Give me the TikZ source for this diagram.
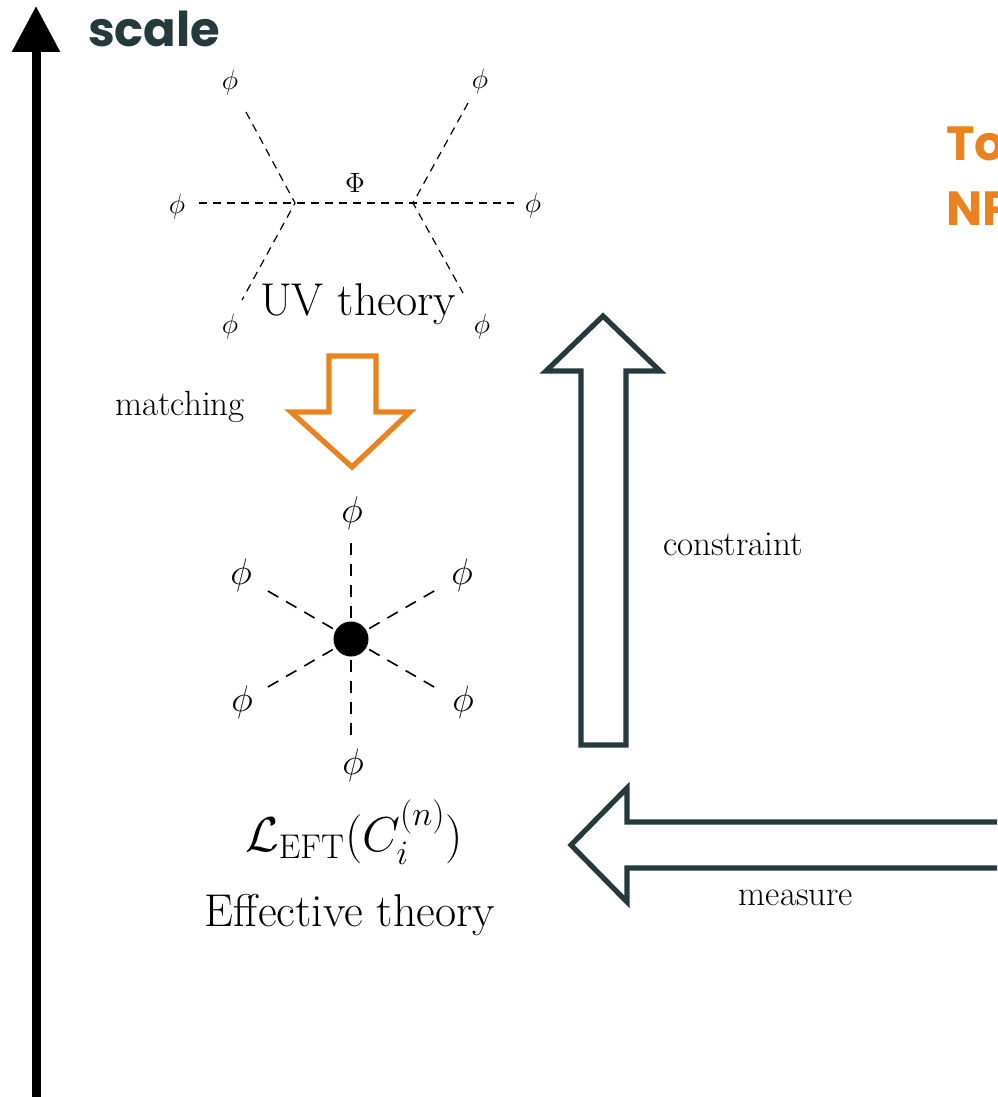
\RequirePackage{fix-cm}
\documentclass[tikz,border=0pt]{standalone}
\usepackage{amsmath,amssymb}
\usepackage{fontspec}
\newfontfamily\headfont{Poppins}
\usepackage{tikz}
\usetikzlibrary{arrows.meta}
\definecolor{slate}{RGB}{38,58,61}
\definecolor{nporange}{RGB}{234,130,30}

\begin{document}
\begin{tikzpicture}[x=0.5pt,y=-0.5pt,>={Triangle[width=23pt,length=23pt]},
  prop/.style={dash pattern=on 4pt off 3pt,line width=0.6pt},
  eftprop/.style={dash pattern=on 6pt off 4.5pt,line width=0.8pt},
  blockarrow/.style={line width=2.6pt,line join=miter},
  uvphi/.style={font=\fontsize{14}{17}\selectfont},
  eftphi/.style={font=\fontsize{18.5}{22}\selectfont},
  note/.style={font=\fontsize{17.5}{21}\selectfont,anchor=base},
  theorylabel/.style={font=\fontsize{23}{28}\selectfont,anchor=base},
  headtext/.style={font=\headfont\bfseries\fontsize{24}{29}\selectfont,anchor=base west}]
  \clip (0,0) rectangle (997,1097);
  % scale axis
  \draw[line width=4.5pt,->] (36,1110) -- (36,6);
  \node[headtext,text=slate] (scale) at (81,47) {scale};
  \node[headtext,text=nporange] (to) at (939,161) {To};
  \node[headtext,text=nporange] (np) at (939,225) {NP};

  % UV theory
  \coordinate (vl) at (295,203);
  \coordinate (vr) at (413,203);
  \coordinate (el) at (199,203);
  \coordinate (er) at (514,203);
  \coordinate (eul) at (246,112);
  \coordinate (ell) at (242,300);
  \coordinate (eur) at (468,103);
  \coordinate (elr) at (463,293);
  \draw[prop] (el) -- (vl) -- (vr) -- (er);
  \draw[prop] (eul) -- (vl) -- (ell);
  \draw[prop] (eur) -- (vr) -- (elr);
  \node[uvphi] (pul) at (230,83) {$\phi$};
  \node[uvphi] (pur) at (480,82) {$\phi$};
  \node[uvphi] (pl) at (177,206) {$\phi$};
  \node[uvphi] (pr) at (533,205) {$\phi$};
  \node[uvphi] (pll) at (230,326) {$\phi$};
  \node[uvphi] (plr) at (482,326) {$\phi$};
  \node[uvphi] (heavy) at (355,183) {$\Phi$};
  \node[theorylabel] (uv) at (358,315) {UV theory};

  % matching
  \draw[blockarrow,nporange] (329,356) -- (376,356) -- (376,412) -- (410,412)
    -- (352,467) -- (291,412) -- (329,412) -- cycle;
  \node[note] (matching) at (180,415) {matching};

  % effective vertex
  \coordinate (vc) at (351,639);
  \foreach \a in {30,90,...,330} {
    \path (vc) ++(\a:96) coordinate (leg\a);
    \draw[eftprop] (leg\a) -- (vc);
  }
  \node[circle,fill,inner sep=0pt,minimum size=17.5pt] (blob) at (vc) {};
  \node[eftphi] (qt) at (352,513) {$\phi$};
  \node[eftphi] (qul) at (241,575) {$\phi$};
  \node[eftphi] (qur) at (462,575) {$\phi$};
  \node[eftphi] (qll) at (242,702) {$\phi$};
  \node[eftphi] (qlr) at (463,702) {$\phi$};
  \node[eftphi] (qb) at (353,765) {$\phi$};
  \node[font=\fontsize{24.5}{29}\selectfont,anchor=base] (lag) at (354,851)
    {$\mathcal{L}_{\mathrm{EFT}}(C_i^{(n)})$};
  \node[theorylabel] (eft) at (350,926) {Effective theory};

  % constraint and measure
  \draw[blockarrow,slate] (581,745) -- (626,745) -- (626,371) -- (660,371)
    -- (603,316) -- (546,371) -- (581,371) -- cycle;
  \node[note] (constraint) at (733,555) {constraint};
  \draw[blockarrow,slate] (1010,822) -- (627,822) -- (627,788) -- (571,845)
    -- (627,902) -- (627,868) -- (1010,868);
  \node[note] (measure) at (796,905) {measure};
\end{tikzpicture}
\end{document}
